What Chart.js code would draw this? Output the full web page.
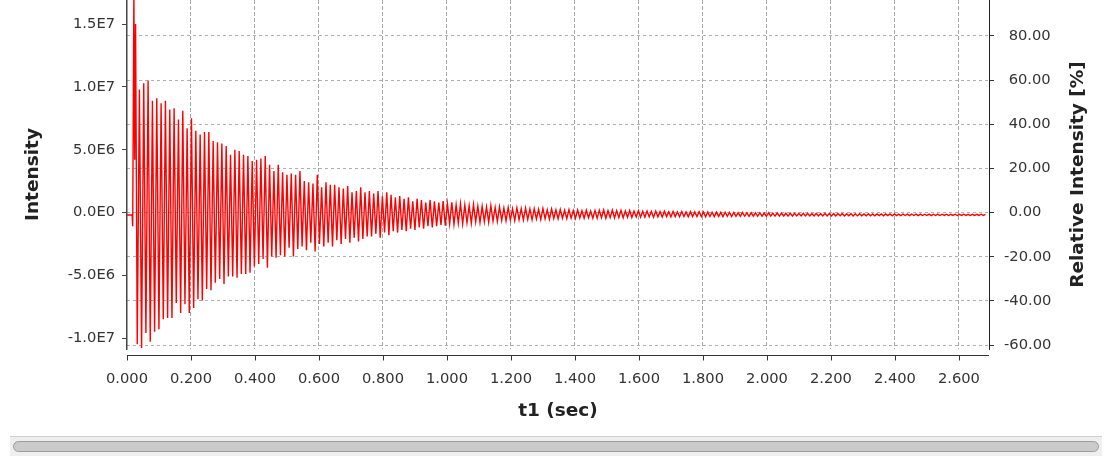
<!DOCTYPE html>
<html><head><meta charset="utf-8">
<script src="https://cdn.jsdelivr.net/npm/chart.js@4.4.1/dist/chart.umd.min.js"></script>
<style>
html,body{margin:0;padding:0;background:#fff;}
#wrap{position:relative;width:1112px;height:461px;overflow:hidden;background:#fff;}
#c{position:absolute;left:0;top:0;}
#track{position:absolute;left:10px;top:436px;width:1092px;height:19px;background:#efefef;border-top:1px solid #cfcfcf;}
#thumb{position:absolute;left:3px;top:4px;width:1084px;height:9px;background:#cbcbcb;border:1px solid #9c9c9c;border-radius:6px;}
</style></head>
<body><div id="wrap"><canvas id="c" width="1112" height="432"></canvas><div id="track"><div id="thumb"></div></div></div>
<script>
// ---- tick labels ----
const timeTicks = [0, 0.2, 0.4, 0.6, 0.8, 1.0, 1.2, 1.4, 1.6, 1.8, 2.0, 2.2, 2.4, 2.6];
const intensityTicks = [-1.0e7, -5.0e6, 0, 5.0e6, 1.0e7, 1.5e7];
const relativeTicks = [-60, -40, -20, 0, 20, 40, 60, 80];

// ---- FID data (intensity in units of 1E6) ----
// start of acquisition (explicit samples)
const leadTimes  = [0, 0.016, 0.0178, 0.0215, 0.024, 0.0268];
const leadValues = [-0.2, -0.2, -1.1, 17.6, 4.2, 15.0];
// after that: alternating trough / peak samples on a regular time grid
const fidStart = 0.032;       // sec, time of first trough
const halfPeriod = 0.00678;   // sec between a trough and the next peak
const troughValues = [
 -10.5,-10.8,-9.6,-10.3,-9.5,-9.3,-8.5,-8.4,-8.4,-7.2,
 -8.0,-7.3,-8.0,-7.6,-6.9,-7.0,-6.1,-6.2,-5.6,-5.3,
 -5.7,-5.1,-5.1,-5.2,-4.9,-4.9,-4.8,-4.3,-4.1,-3.7,
 -4.4,-3.5,-3.6,-3.4,-3.5,-2.8,-3.5,-2.9,-2.7,-3.0,
 -2.4,-3.1,-2.5,-2.7,-2.4,-2.7,-2.2,-2.5,-2.1,-2.4,
 -2.0,-2.3,-2.1,-1.9,-1.9,-1.7,-2.0,-1.6,-1.8,-1.5,
 -1.6,-1.4,-1.5,-1.3,-1.4,-1.2,-1.3,-1.1,-1.2,
 -1.1,-1.0,-1.05,-0.9,-0.95,-0.85,-0.9,-0.8,-0.85,-0.75,
 -0.8,-0.72,-0.78,-0.68,-0.7,-0.62,-0.66,-0.6,-0.64,-0.58,-0.6,-0.55,
 -0.58,-0.52,-0.56,-0.5,-0.54,-0.48,-0.5,-0.46,-0.49,-0.45,-0.47,-0.44,-0.46,-0.42,-0.45,
 -0.45,-0.42,-0.46,-0.41,-0.44,-0.4,-0.42,-0.38,-0.4,-0.36,-0.37,
 -0.38,-0.35,-0.37,-0.34,-0.36,-0.33,-0.35,-0.33,-0.34,-0.32,-0.34,-0.32,-0.33,-0.32,
 -0.34,-0.32,-0.33,-0.31,-0.33,-0.3,-0.32,-0.3,-0.31,-0.3,-0.31,-0.29,-0.3,-0.29,-0.3,-0.28,-0.29,
 -0.29,-0.28,-0.29,-0.28,-0.28,-0.27,-0.28,-0.27,-0.28,-0.27,-0.27,-0.28,-0.27,-0.27,-0.26,-0.27,-0.26,-0.27,
 -0.27,-0.26,-0.27,-0.26,-0.26,-0.25,-0.26,-0.25,-0.26,-0.25,-0.25,-0.24,-0.25,-0.24,-0.25,
 -0.24,-0.24,-0.25,-0.24,-0.24,-0.23,-0.24,-0.23,-0.24,-0.23,-0.23,-0.24,-0.23,-0.23,-0.23
];
const peakValues = [
 9.8,10.3,10.5,8.9,9.1,8.7,8.9,8.2,8.3,7.4,
 8.1,6.7,7.5,6.5,6.2,6.4,6.4,5.7,5.6,5.5,
 5.3,4.6,5.0,4.9,4.6,4.5,4.1,4.2,4.3,4.5,
 3.8,3.3,3.8,3.2,3.0,3.1,3.0,3.3,2.5,2.4,
 2.3,3.0,2.0,2.4,2.2,2.2,2.0,1.9,2.1,1.6,
 1.7,2.0,1.6,1.7,1.5,1.7,1.3,1.6,1.4,1.2,
 1.3,1.1,1.2,0.9,1.1,1.0,0.8,1.0,0.9,
 0.8,0.9,0.7,0.8,0.6,0.7,0.6,0.55,0.65,0.5,
 0.5,0.45,0.55,0.4,0.45,0.35,0.4,0.3,0.38,0.3,0.35,0.28,
 0.3,0.25,0.32,0.22,0.27,0.2,0.24,0.18,0.22,0.15,0.2,0.14,0.18,0.12,0.16,
 0.18,0.2,0.14,0.19,0.15,0.17,0.12,0.16,0.11,0.14,0.1,
 0.12,0.08,0.11,0.07,0.1,0.06,0.09,0.05,0.08,0.05,0.07,0.04,0.06,0.05,
 0.04,0.02,0.03,0.01,0.02,0.0,0.01,-0.01,0.0,-0.02,-0.01,-0.03,-0.02,-0.04,-0.03,-0.05,-0.04,
 -0.05,-0.06,-0.05,-0.07,-0.06,-0.07,-0.06,-0.08,-0.07,-0.08,-0.07,-0.09,-0.08,-0.09,-0.08,-0.1,-0.09,-0.1,
 -0.1,-0.11,-0.1,-0.12,-0.11,-0.12,-0.11,-0.12,-0.12,-0.13,-0.12,-0.13,-0.12,-0.13,-0.13,
 -0.14,-0.13,-0.14,-0.13,-0.14,-0.14,-0.15,-0.14,-0.15,-0.14,-0.15,-0.15,-0.15,-0.14,-0.15
];
const UNIT = 1e6;

// ---- build points ----
const points = [];
leadTimes.forEach((t, i) => points.push({x: t, y: leadValues[i] * UNIT}));
const n = Math.min(troughValues.length, peakValues.length);
for (let k = 0; k < n; k++) {
  points.push({x: fidStart + 2 * k * halfPeriod, y: troughValues[k] * UNIT});
  points.push({x: fidStart + (2 * k + 1) * halfPeriod, y: peakValues[k] * UNIT});
}

const FONT = 'DejaVu Sans';
const tickFont = {family: FONT, size: 14.7};
const titleFont = {family: FONT, size: 18.5, weight: 'bold'};
const TICK_COLOR = '#333333';
const TITLE_COLOR = '#222222';

function fmtE(v) {
  if (v === 0) return '0.0E0';
  const e = Math.floor(Math.log10(Math.abs(v)) + 1e-9);
  const m = v / Math.pow(10, e);
  return m.toFixed(1) + 'E' + e;
}

const decor = {
  id: 'decor',
  afterDraw(chart) {
    const {ctx, chartArea: a, scales} = chart;
    const xs = scales.x;
    const y0 = Math.round(a.bottom + 6) + 0.5;
    ctx.save();
    ctx.strokeStyle = '#333';
    ctx.lineWidth = 1;
    ctx.beginPath();
    ctx.moveTo(a.left, y0);
    ctx.lineTo(a.right, y0);
    xs.ticks.forEach(t => {
      const px = Math.round(xs.getPixelForValue(t.value)) + 0.5;
      ctx.moveTo(px, y0);
      ctx.lineTo(px, y0 + 5);
    });
    ctx.stroke();
    ctx.translate(1078, (a.top + a.bottom) / 2);
    ctx.rotate(-Math.PI / 2);
    ctx.font = 'bold 18.5px "DejaVu Sans"';
    ctx.fillStyle = TITLE_COLOR;
    ctx.textAlign = 'center';
    ctx.textBaseline = 'middle';
    ctx.fillText('Relative Intensity [%]', 0, 0);
    ctx.restore();
  }
};

new Chart(document.getElementById('c'), {
  type: 'line',
  data: {
    datasets: [{
      data: points,
      yAxisID: 'y',
      borderColor: '#ff0000',
      borderWidth: 1.4,
      pointRadius: 0,
      pointHoverRadius: 0,
      tension: 0,
      fill: false
    }]
  },
  options: {
    responsive: false,
    animation: false,
    events: [],
    layout: {padding: 0},
    plugins: {legend: {display: false}, tooltip: {enabled: false}},
    scales: {
      x: {
        type: 'linear', position: 'bottom', min: 0, max: 2.694,
        afterBuildTicks: s => { s.ticks = timeTicks.map(v => ({value: v})); },
        afterFit: s => { s.height = 83; s.paddingLeft = 0; s.paddingRight = 0; },
        grid: {
          drawTicks: false, lineWidth: 1,
          color: c => (c.tick && c.tick.value === 0) ? 'rgba(0,0,0,0)' : '#a6a6a6'
        },
        border: {display: false, dash: [4, 2]},
        ticks: {padding: 21, color: TICK_COLOR, font: tickFont, autoSkip: false, maxRotation: 0,
                callback: v => Number(v).toFixed(3)},
        title: {display: true, text: 't1 (sec)', color: TITLE_COLOR, font: titleFont, padding: {top: 0, bottom: 10}}
      },
      y: {
        type: 'linear', position: 'left', min: -10.87e6, max: 16.92e6,
        afterBuildTicks: s => { s.ticks = intensityTicks.map(v => ({value: v})); },
        afterFit: s => { s.width = 127; s.paddingTop = 0; s.paddingBottom = 0; },
        grid: {drawOnChartArea: false, drawTicks: true, tickLength: 5, tickColor: '#444'},
        border: {display: true, color: '#444', width: 1.5},
        ticks: {padding: 7, color: TICK_COLOR, font: tickFont, autoSkip: false, callback: v => fmtE(v)},
        title: {display: true, text: 'Intensity', color: TITLE_COLOR, font: titleFont, padding: {top: 22, bottom: 0}}
      },
      y2: {
        type: 'linear', position: 'right', min: -61.8, max: 96.3,
        afterBuildTicks: s => { s.ticks = relativeTicks.map(v => ({value: v})); },
        afterFit: s => { s.width = 123; s.paddingTop = 0; s.paddingBottom = 0; },
        grid: {drawOnChartArea: true, color: '#b0b0b0', lineWidth: 1, drawTicks: true, tickLength: 5,
               tickColor: '#333', tickBorderDash: []},
        border: {display: true, color: '#222', width: 1, dash: [3, 3]},
        ticks: {padding: 10, color: TICK_COLOR, font: tickFont, autoSkip: false,
                callback: v => (v < 0 ? '' : ' ') + Number(v).toFixed(2)},
        title: {display: false}
      }
    }
  },
  plugins: [decor]
});
</script>
</body></html>
